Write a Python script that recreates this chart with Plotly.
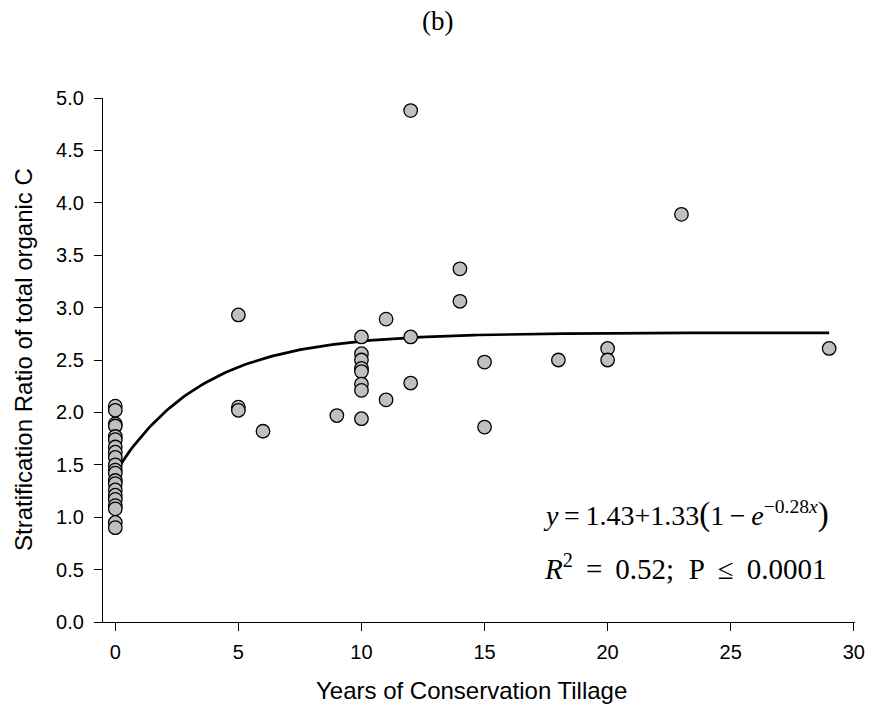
import numpy as np
import plotly.graph_objects as go

# Observed data: years of conservation tillage vs stratification ratio of TOC
years_0 = [0] * 21
ratio_0 = [2.06, 2.02, 1.89, 1.87, 1.77, 1.74, 1.67, 1.62, 1.57, 1.50, 1.45,
           1.42, 1.35, 1.32, 1.26, 1.21, 1.17, 1.11, 1.08, 0.95, 0.90]

years_ct = [5, 5, 5, 6, 9, 10, 10, 10, 10, 10, 10, 10, 10, 11, 11, 12, 12, 12,
            14, 14, 15, 15, 18, 20, 20, 23, 29]
ratio_ct = [2.93, 2.05, 2.02, 1.82, 1.97, 2.72, 2.56, 2.50, 2.42, 2.39, 2.27, 2.21, 1.94,
            2.89, 2.12, 4.88, 2.72, 2.28, 3.37, 3.06, 2.48, 1.86, 2.50, 2.61, 2.50,
            3.89, 2.61]

# Fitted model parameters (shown on chart)
fit_a, fit_b, fit_k = 1.43, 1.33, 0.28
fit_x = np.linspace(0, 29, 200)
fit_y = fit_a + fit_b * (1 - np.exp(-fit_k * fit_x))

x_all = years_0 + years_ct
y_all = ratio_0 + ratio_ct

y_ticks = [0.0, 0.5, 1.0, 1.5, 2.0, 2.5, 3.0, 3.5, 4.0, 4.5, 5.0]
x_ticks = [0, 5, 10, 15, 20, 25, 30]

fig = go.Figure()
fig.add_trace(go.Scatter(
    x=fit_x, y=fit_y, mode="lines",
    line=dict(color="black", width=2.7), hoverinfo="skip", showlegend=False))
fig.add_trace(go.Scatter(
    x=x_all, y=y_all, mode="markers",
    marker=dict(size=13.5, color="#c0c0c0", line=dict(color="black", width=1.3)),
    showlegend=False))

sans = "Liberation Sans, Arial, sans-serif"
serif = "Liberation Serif, Times New Roman, serif"
tick_font = dict(family=sans, size=20, color="black")

fig.update_layout(
    width=872, height=712,
    margin=dict(l=103, r=17, t=98, b=90),
    paper_bgcolor="white", plot_bgcolor="white",
    font=tick_font,
    xaxis=dict(range=[-0.5, 30.05], tickvals=x_ticks, ticks="outside", ticklen=8,
               tickwidth=1.3, tickcolor="black", showline=True, linecolor="black",
               linewidth=1.3, showgrid=False, zeroline=False, tickfont=tick_font,
               ticklabelstandoff=4, automargin=False),
    yaxis=dict(range=[0, 5.0], tickvals=y_ticks, tickformat=".1f", ticks="outside",
               ticklen=8, tickwidth=1.3, tickcolor="black", showline=True,
               linecolor="black", linewidth=1.3, showgrid=False, zeroline=False,
               tickfont=tick_font, ticklabelstandoff=6, automargin=False),
    annotations=[
        dict(text="(b)", xref="paper", yref="paper", x=0.445, y=1.0, yshift=77,
             showarrow=False, xanchor="center", yanchor="middle",
             font=dict(family=serif, size=27, color="black")),
        dict(text="Years of Conservation Tillage", xref="paper", yref="paper",
             x=0.49, y=0.0, yshift=-68, showarrow=False, xanchor="center",
             yanchor="middle", font=dict(family=sans, size=24, color="black")),
        dict(text="Stratification Ratio of total organic C", xref="paper",
             yref="paper", x=0.0, y=0.5, xshift=-80, textangle=-90,
             showarrow=False, xanchor="center", yanchor="middle",
             font=dict(family=sans, size=24, color="black")),
        dict(text="<i>y</i>\u2009=\u20091.43+1.33<span style='font-size:33px'>(</span>1\u2009−\u2009<i>e</i>"
                  "<sup>−0.28<i>x</i></sup><span style='font-size:33px'>)</span>",
             xref="paper", yref="paper", x=0.968, y=0.206, showarrow=False,
             xanchor="right", yanchor="middle",
             font=dict(family=serif, size=28, color="black")),
        dict(text="<i>R</i><sup>2</sup>\u2009 = \u20090.52;\u2002P\u2009 ≤ \u20090.0001",
             xref="paper", yref="paper", x=0.965, y=0.105, showarrow=False,
             xanchor="right", yanchor="middle",
             font=dict(family=serif, size=29, color="black")),
    ],
)

fig.write_html("out.html")
